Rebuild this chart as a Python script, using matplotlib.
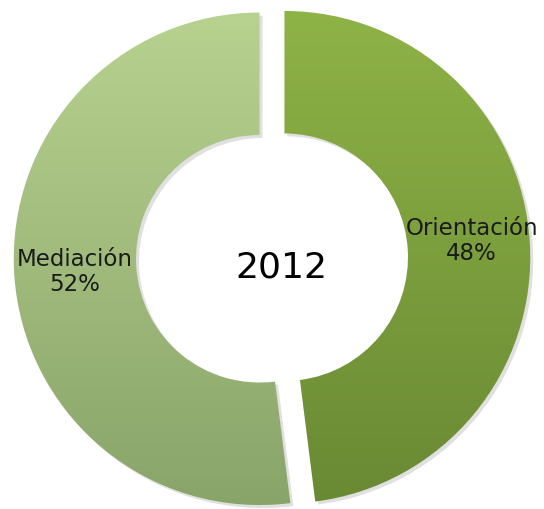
import numpy as np
import matplotlib
matplotlib.use("Agg")
import matplotlib.pyplot as plt
from matplotlib.patches import Wedge
from matplotlib.colors import LinearSegmentedColormap

labels = ["Orientación", "Mediación"]
shares = [48, 52]
center_label = "2012"

# top/bottom gradient colours per slice
grad = [("#8fb447", "#688833"), ("#b9d391", "#88a368")]

fig = plt.figure(figsize=(5.44, 5.10), dpi=100)
ax = fig.add_axes([0, 0, 1, 1])
ax.set_xlim(-1.09, 1.09)
ax.set_ylim(-1.004, 1.036)
ax.set_aspect("equal")
ax.axis("off")

r_out, width, explode = 0.985, 0.49, 0.05
start = 90.0
total = float(sum(shares))
for lab, val, (ctop, cbot) in zip(labels, shares, grad):
    sweep = 360.0 * val / total
    t1, t2 = start - sweep, start
    mid = np.deg2rad((t1 + t2) / 2)
    cx, cy = explode * np.cos(mid), explode * np.sin(mid)
    # soft shadow
    sh = Wedge((cx + 0.012, cy - 0.012), r_out, t1, t2, width=width,
               facecolor="#000000", alpha=0.12, edgecolor="none")
    ax.add_patch(sh)
    w = Wedge((cx, cy), r_out, t1, t2, width=width, facecolor="none",
              edgecolor="none")
    ax.add_patch(w)
    cmap = LinearSegmentedColormap.from_list("g", [cbot, ctop])
    img = ax.imshow(np.linspace(0, 1, 256).reshape(-1, 1), cmap=cmap,
                    origin="lower", aspect="auto",
                    extent=[-1.1, 1.1, -1.05, 1.05], zorder=2)
    img.set_clip_path(w)
    if lab == "Orientación":
        tx, ty = 0.80, 0.072
    else:
        tx, ty = -0.79, -0.052
    ax.text(tx, ty, f"{lab}\n{val}%", ha="center", va="center",
            fontsize=16.5, color="#1a1a1a", zorder=3, linespacing=1.1)
    start = t1

ax.text(0.036, -0.036, center_label, ha="center", va="center", fontsize=26,
        color="black", zorder=3)

fig.savefig("out.png", dpi=100, facecolor="white")
